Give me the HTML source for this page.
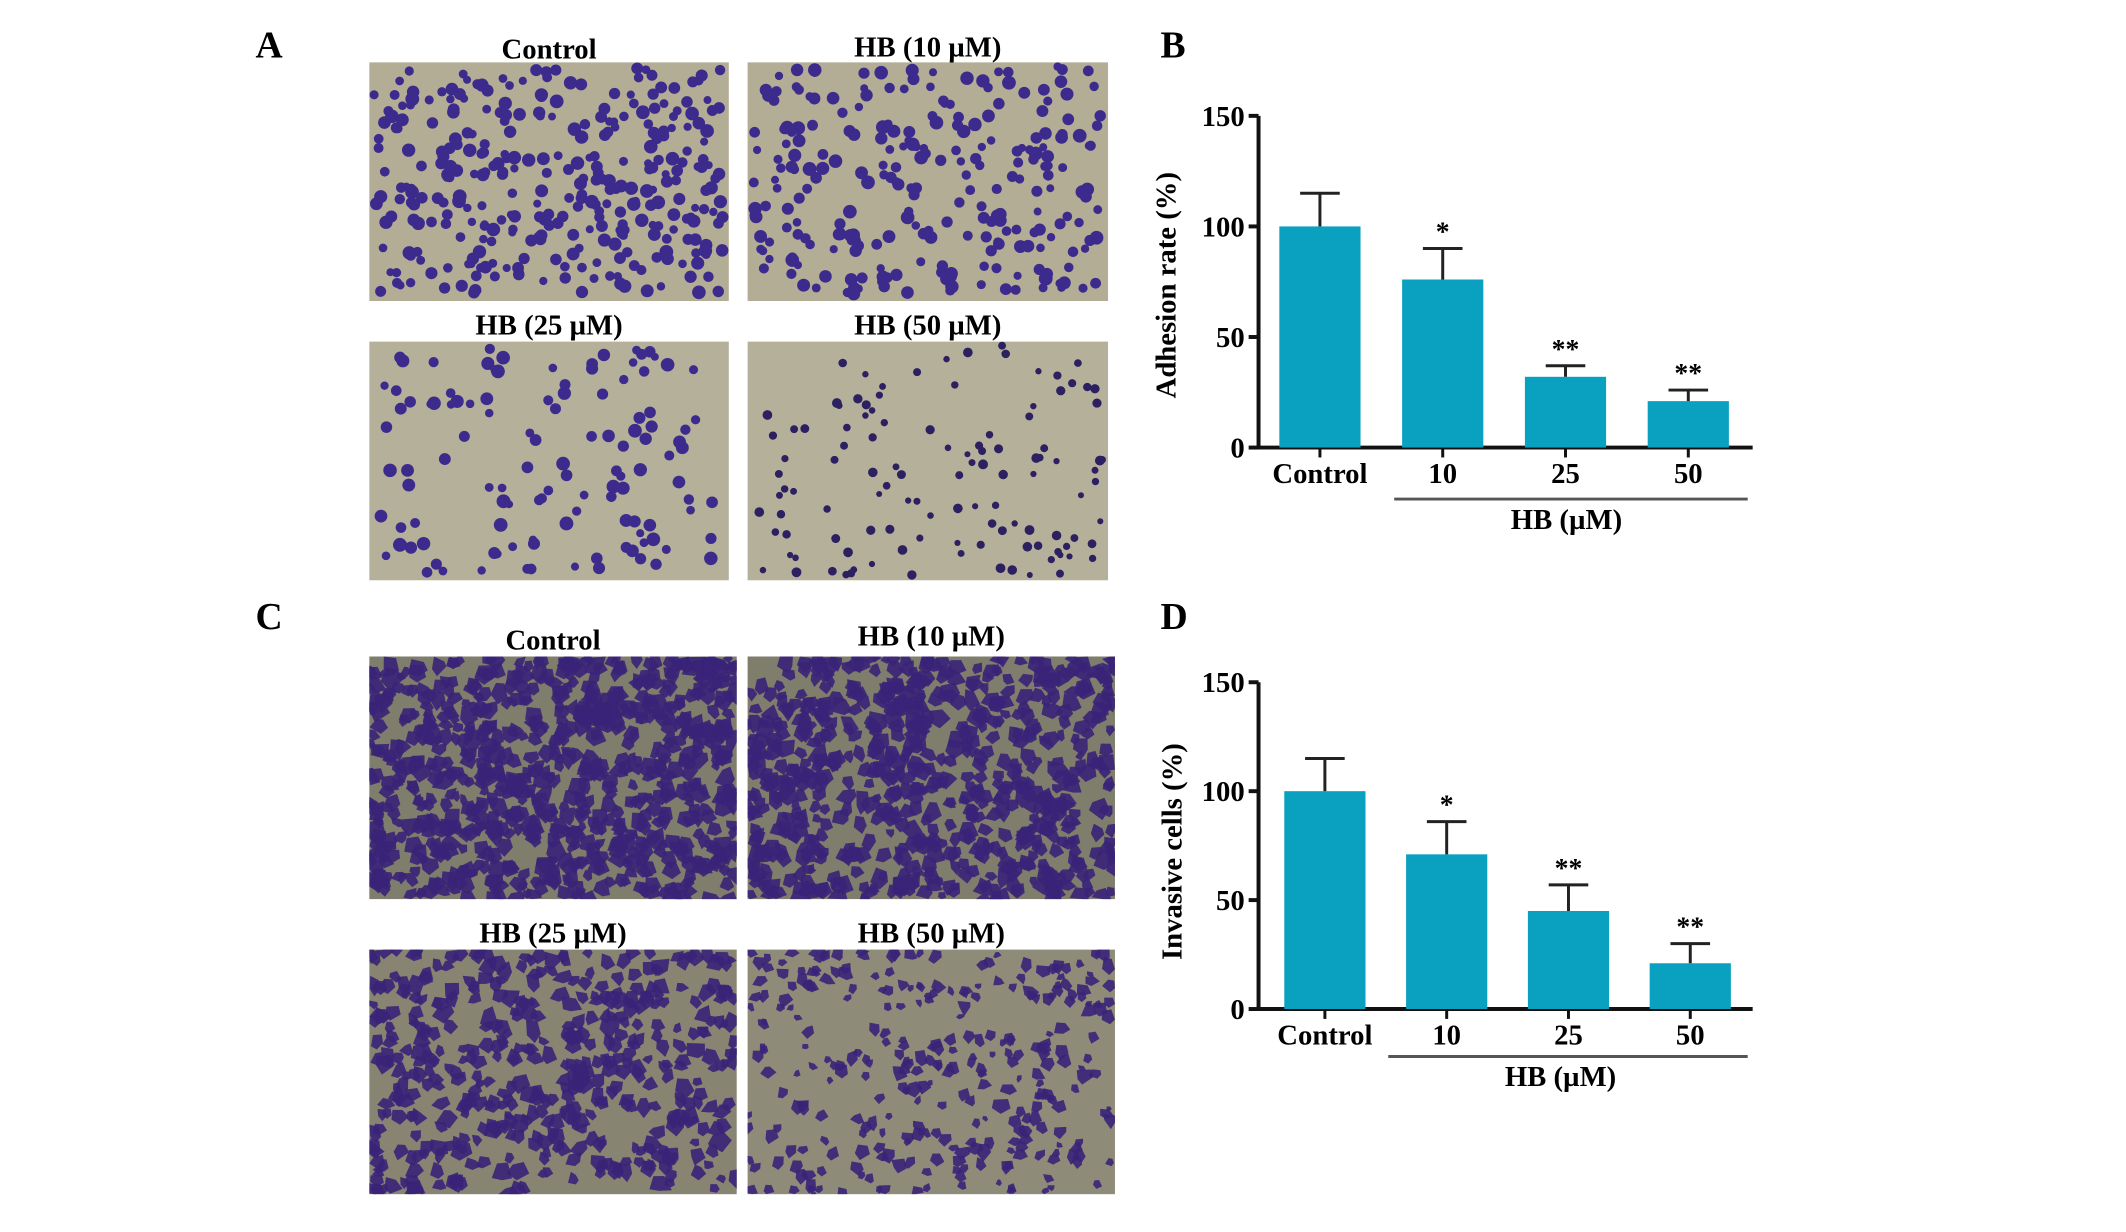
<!DOCTYPE html>
<html><head><meta charset="utf-8">
<style>
html,body{margin:0;padding:0;background:#fff;}
body{width:2126px;height:1232px;position:relative;overflow:hidden;font-family:"Liberation Serif",serif;font-weight:bold;}
svg{position:absolute;left:0;top:0;}
</style></head>
<body>
<svg id="fig" width="2126" height="1232" viewBox="0 0 2126 1232" xmlns="http://www.w3.org/2000/svg">
<g transform="scale(0.9902)">
<g font-family="Liberation Serif, serif" font-weight="bold" fill="#000">
<text x="258" y="58" font-size="38">A</text>
<text x="1172" y="58" font-size="38">B</text>
<text x="258" y="635" font-size="38">C</text>
<text x="1172" y="635" font-size="38">D</text>
</g>
<g id="micro"></g>
<g id="chartB"></g>
<g id="chartD"></g>
</g>
</svg>
<script>
// ---- chart data ----
const categories = ["Control","10","25","50"];
const adhesionValues = [100, 76, 32, 21];
const adhesionErrors = [15, 14, 5, 5];
const adhesionStars = ["", "*", "**", "**"];
const invasionValues = [100, 71, 45, 21];
const invasionErrors = [15, 15, 12, 9];
const invasionStars = ["", "*", "**", "**"];
const yTicks = [0, 50, 100, 150];

const NS = "http://www.w3.org/2000/svg";
function mk(tag, attrs, parent){const e=document.createElementNS(NS,tag);for(const k in attrs)e.setAttribute(k,attrs[k]);parent.appendChild(e);return e;}

// ---- micrographs (decorative, seeded) ----
let seed = 12345;
function rnd(){seed=(seed*1103515245+12345)%2147483648;return seed/2147483648;}
const micro = document.getElementById('micro');
function panel(x,y,w,h,title,ty,bg,cell,count,rmin,rmax,shape,name){
  const g = mk('g',{},micro);
  
  
  mk('rect',{x:x,y:y,width:w,height:h,fill:bg},g);
  const cg = mk('g',{},g);
  for(let i=0;i<count;i++){
    const cx=x+rnd()*w, cy=y+rnd()*h, r=rmin+rnd()*(rmax-rmin);
    if(shape==='circle'){
      if(cx-r<x||cx+r>x+w||cy-r<y||cy+r>y+h) continue;
      mk('circle',{cx:cx,cy:cy,r:r,fill:cell},cg);}
    else{
      const pts=[];for(let k=0;k<5;k++){const a=k*1.256+rnd()*0.6;const rr=r*(0.6+rnd()*0.6);pts.push((Math.min(x+w,Math.max(x,cx+rr*Math.cos(a)))).toFixed(1)+','+(Math.min(y+h,Math.max(y,cy+rr*Math.sin(a)))).toFixed(1));}
      mk('polygon',{points:pts.join(' '),fill:cell,'fill-opacity':0.9},cg);
    }
  }
  const t = mk('text',{x:x+w/2,y:ty,'text-anchor':'middle','font-size':29,'font-family':'Liberation Serif, serif','font-weight':'bold'},g);
  t.textContent = title;
  
  
}
panel(373,63,363,241,"Control",59,"#b2ad94","#3c2a8c",360,4,7,'circle','adhesion-control-image');
panel(755,63,364,241,"HB (10 µM)",57,"#b2ad94","#3c2a8c",280,4,7,'circle','adhesion-hb10-image');
panel(373,345,363,241,"HB (25 µM)",338,"#b4b09a","#3c2a8c",130,4,7,'circle','adhesion-hb25-image');
panel(755,345,364,241,"HB (50 µM)",338,"#b4b09a","#2c2060",120,3,5,'circle','adhesion-hb50-image');
panel(373,663,371,245,"Control",656,"#7f7d6c","#3a2378",760,6,12,'poly','invasion-control-image');
panel(755,663,371,245,"HB (10 µM)",652,"#7f7d6c","#3a2378",660,6,12,'poly','invasion-hb10-image');
panel(373,959,371,247,"HB (25 µM)",952,"#878572","#3a2378",460,6,11,'poly','invasion-hb25-image');
panel(755,959,371,247,"HB (50 µM)",952,"#8e8c78","#3a2378",300,4,9,'poly','invasion-hb50-image');

// ---- bar charts ----
function chart(gid,opt,values,errors,stars){
  const g=document.getElementById(gid);
  const y=v=>opt.y0-(v/150)*(opt.y0-opt.y150);
  const bx=i=>opt.firstBar+i*opt.step;
  const bw=82;
  const ya=mk('line',{x1:opt.ax,y1:opt.y150,x2:opt.ax,y2:opt.y0+2,stroke:'#111','stroke-width':4},g);
  
  
  const xa=mk('line',{x1:opt.ax-2,y1:opt.y0,x2:opt.xEnd,y2:opt.y0,stroke:'#111','stroke-width':4},g);
  
  
  yTicks.forEach(t=>{
    mk('line',{x1:opt.ax-10,y1:y(t),x2:opt.ax,y2:y(t),stroke:'#111','stroke-width':4},g);
    const tx=mk('text',{x:opt.ax-14,y:y(t)+10,'text-anchor':'end','font-size':29,'font-family':'Liberation Serif, serif','font-weight':'bold'},g);
    tx.textContent=t;
    
    
  });
  values.forEach((v,i)=>{
    const x=bx(i), cx=x+bw/2;
    const b=mk('rect',{x:x,y:y(v),width:bw,height:y(0)-y(v),fill:'#0aa0bf'},g);
    
    
    const top=y(v+errors[i]);
    const e1=mk('line',{x1:cx,y1:y(v),x2:cx,y2:top,stroke:'#222','stroke-width':3},g);
    
    
    mk('line',{x1:cx-20,y1:top,x2:cx+20,y2:top,stroke:'#222','stroke-width':3},g);
    mk('line',{x1:cx,y1:opt.y0,x2:cx,y2:opt.y0+10,stroke:'#111','stroke-width':3},g);
    if(stars[i]){
      const s=mk('text',{x:cx,y:top-8,'text-anchor':'middle','font-size':28,'font-family':'Liberation Serif, serif','font-weight':'bold'},g);
      s.textContent=stars[i];
      
      
    }
    const l=mk('text',{x:cx,y:opt.y0+36,'text-anchor':'middle','font-size':29,'font-family':'Liberation Serif, serif','font-weight':'bold'},g);
    l.textContent=categories[i];
    
    
  });
  const hl=mk('line',{x1:opt.lineX1,y1:opt.lineY,x2:opt.xEnd-5,y2:opt.lineY,stroke:'#555','stroke-width':3},g);
  
  
  const hb=mk('text',{x:opt.hbX,y:opt.lineY+30,'text-anchor':'middle','font-size':29,'font-family':'Liberation Serif, serif','font-weight':'bold'},g);
  hb.textContent='HB (µM)';
  
  
  const yt=mk('text',{x:0,y:0,transform:'translate('+opt.titleX+','+opt.titleY+') rotate(-90)','text-anchor':'middle','font-size':29,'font-family':'Liberation Serif, serif','font-weight':'bold'},g);
  yt.textContent=opt.title;
  
  
}
chart('chartB',{ax:1271,y0:452,y150:117,firstBar:1292,step:124,xEnd:1770,lineX1:1408,lineY:504,hbX:1582,titleX:1187,titleY:288,title:'Adhesion rate (%)'},adhesionValues,adhesionErrors,adhesionStars);
chart('chartD',{ax:1271,y0:1019,y150:689,firstBar:1297,step:123,xEnd:1770,lineX1:1402,lineY:1067,hbX:1576,titleX:1193,titleY:860,title:'Invasive cells (%)'},invasionValues,invasionErrors,invasionStars);
</script>
</body></html>
